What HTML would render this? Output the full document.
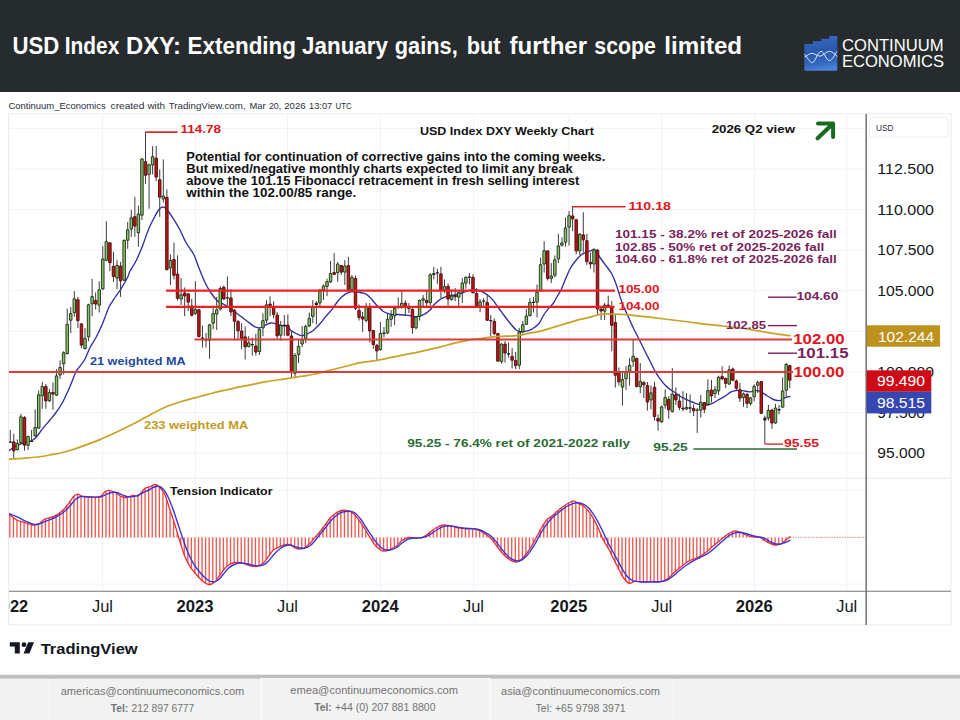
<!DOCTYPE html>
<html><head><meta charset="utf-8"><title>USD Index DXY</title>
<style>html,body{margin:0;padding:0;background:#fff;}body{width:960px;height:720px;overflow:hidden;font-family:"Liberation Sans",sans-serif;}svg{display:block;}text{font-family:"Liberation Sans",sans-serif;}</style></head><body>
<svg width="960" height="720" viewBox="0 0 960 720">
<defs><linearGradient id="lg" x1="0.2" y1="0" x2="0.35" y2="1"><stop offset="0" stop-color="#3a6cc2"/><stop offset="0.45" stop-color="#2a58ab"/><stop offset="0.8" stop-color="#3466bc"/><stop offset="1" stop-color="#4a82d6"/></linearGradient>
<clipPath id="cp"><rect x="9" y="114" width="857" height="477"/></clipPath></defs>
<rect x="0" y="0" width="960" height="720" fill="#ffffff"/>
<rect x="0" y="0" width="960" height="92" fill="#262b2d"/>
<text x="12.4" y="53.7" font-size="23" font-weight="bold" fill="#ffffff" textLength="46.8" lengthAdjust="spacingAndGlyphs">USD</text>
<text x="64.8" y="53.7" font-size="23" font-weight="bold" fill="#ffffff" textLength="54.5" lengthAdjust="spacingAndGlyphs">Index</text>
<text x="126.0" y="53.7" font-size="23" font-weight="bold" fill="#ffffff" textLength="55.0" lengthAdjust="spacingAndGlyphs">DXY:</text>
<text x="187.5" y="53.7" font-size="23" font-weight="bold" fill="#ffffff" textLength="108.5" lengthAdjust="spacingAndGlyphs">Extending</text>
<text x="302.0" y="53.7" font-size="23" font-weight="bold" fill="#ffffff" textLength="86.0" lengthAdjust="spacingAndGlyphs">January</text>
<text x="394.8" y="53.7" font-size="23" font-weight="bold" fill="#ffffff" textLength="63.0" lengthAdjust="spacingAndGlyphs">gains,</text>
<text x="466.8" y="53.7" font-size="23" font-weight="bold" fill="#ffffff" textLength="33.8" lengthAdjust="spacingAndGlyphs">but</text>
<text x="509.6" y="53.7" font-size="23" font-weight="bold" fill="#ffffff" textLength="77.5" lengthAdjust="spacingAndGlyphs">further</text>
<text x="594.3" y="53.7" font-size="23" font-weight="bold" fill="#ffffff" textLength="61.5" lengthAdjust="spacingAndGlyphs">scope</text>
<text x="664.3" y="53.7" font-size="23" font-weight="bold" fill="#ffffff" textLength="77.8" lengthAdjust="spacingAndGlyphs">limited</text>
<g id="logo">
<path d="M804.3 45 Q804.3 44 805.3 44 L812.7 44 L812.7 41.3 L821.3 41.3 L821.3 38.7 L829.3 38.7 L829.3 36 L836.5 36 Q837.3 36 837.3 36.8 L837.3 69.2 Q837.3 70.7 835.8 70.7 L805.8 70.7 Q804.3 70.7 804.3 69.2 Z" fill="url(#lg)"/>
<path d="M804.3 54 C807.3 57 809.5 62.7 812.3 62.7 S817.8 51.3 821 51.3 S826.3 60.7 829.3 60.7 S834.5 54.5 837.3 51.3" fill="none" stroke="#d6e4ff" stroke-width="1"/>
<path d="M804.3 57.3 C807 55.5 809.5 53.3 812 53.3 S817.5 56.2 820 56.2 S826.5 51.3 829.3 51.3 S834.5 54 837.3 56.5" fill="none" stroke="#d6e4ff" stroke-width="1"/>
<text x="842" y="50.9" font-size="16.8" fill="#ffffff" textLength="101.5" lengthAdjust="spacingAndGlyphs">CONTINUUM</text>
<text x="842" y="66.9" font-size="16.8" fill="#ffffff" textLength="102" lengthAdjust="spacingAndGlyphs">ECONOMICS</text>
</g>
<text x="8.4" y="108.6" font-size="9.8" fill="#2a2e39" textLength="97.3" lengthAdjust="spacingAndGlyphs">Continuum_Economics</text>
<text x="110.6" y="108.6" font-size="9.8" fill="#2a2e39" textLength="33.8" lengthAdjust="spacingAndGlyphs">created</text>
<text x="147.4" y="108.6" font-size="9.8" fill="#2a2e39" textLength="17.6" lengthAdjust="spacingAndGlyphs">with</text>
<text x="168.7" y="108.6" font-size="9.8" fill="#2a2e39" textLength="76.9" lengthAdjust="spacingAndGlyphs">TradingView.com,</text>
<text x="249.4" y="108.6" font-size="9.8" fill="#2a2e39" textLength="16.1" lengthAdjust="spacingAndGlyphs">Mar</text>
<text x="268.9" y="108.6" font-size="9.8" fill="#2a2e39" textLength="12.3" lengthAdjust="spacingAndGlyphs">20,</text>
<text x="284.2" y="108.6" font-size="9.8" fill="#2a2e39" textLength="21.4" lengthAdjust="spacingAndGlyphs">2026</text>
<text x="309.0" y="108.6" font-size="9.8" fill="#2a2e39" textLength="23.2" lengthAdjust="spacingAndGlyphs">13:07</text>
<text x="335.6" y="108.6" font-size="9.8" fill="#2a2e39" textLength="16.1" lengthAdjust="spacingAndGlyphs">UTC</text>
<rect x="8.5" y="113.8" width="942.5" height="511" fill="#ffffff" stroke="#e8ebf0" stroke-width="1"/>
<line x1="9" y1="128.4" x2="866" y2="128.4" stroke="#eff2f7" stroke-width="1"/>
<line x1="9" y1="169.0" x2="866" y2="169.0" stroke="#eff2f7" stroke-width="1"/>
<line x1="9" y1="209.6" x2="866" y2="209.6" stroke="#eff2f7" stroke-width="1"/>
<line x1="9" y1="250.2" x2="866" y2="250.2" stroke="#eff2f7" stroke-width="1"/>
<line x1="9" y1="290.7" x2="866" y2="290.7" stroke="#eff2f7" stroke-width="1"/>
<line x1="9" y1="331.3" x2="866" y2="331.3" stroke="#eff2f7" stroke-width="1"/>
<line x1="9" y1="371.9" x2="866" y2="371.9" stroke="#eff2f7" stroke-width="1"/>
<line x1="9" y1="412.5" x2="866" y2="412.5" stroke="#eff2f7" stroke-width="1"/>
<line x1="9" y1="453.0" x2="866" y2="453.0" stroke="#eff2f7" stroke-width="1"/>
<line x1="9" y1="490.3" x2="866" y2="490.3" stroke="#eff2f7" stroke-width="1"/>
<line x1="9" y1="537.3" x2="866" y2="537.3" stroke="#eff2f7" stroke-width="1"/>
<line x1="9" y1="584.2" x2="866" y2="584.2" stroke="#eff2f7" stroke-width="1"/>
<line x1="9" y1="478.3" x2="951" y2="478.3" stroke="#e8ebf0" stroke-width="1"/>
<line x1="102.5" y1="114" x2="102.5" y2="591" stroke="#eff2f7" stroke-width="1"/>
<line x1="195.5" y1="114" x2="195.5" y2="591" stroke="#eff2f7" stroke-width="1"/>
<line x1="287.5" y1="114" x2="287.5" y2="591" stroke="#eff2f7" stroke-width="1"/>
<line x1="380.5" y1="114" x2="380.5" y2="591" stroke="#eff2f7" stroke-width="1"/>
<line x1="473.7" y1="114" x2="473.7" y2="591" stroke="#eff2f7" stroke-width="1"/>
<line x1="568.8" y1="114" x2="568.8" y2="591" stroke="#eff2f7" stroke-width="1"/>
<line x1="661.7" y1="114" x2="661.7" y2="591" stroke="#eff2f7" stroke-width="1"/>
<line x1="754.5" y1="114" x2="754.5" y2="591" stroke="#eff2f7" stroke-width="1"/>
<line x1="846.7" y1="114" x2="846.7" y2="591" stroke="#eff2f7" stroke-width="1"/>
<g clip-path="url(#cp)">
<path d="M9.85 537.4V515.1M13.41 537.4V517.8M16.97 537.4V520.2M20.53 537.4V521.3M24.09 537.4V522.3M27.65 537.4V523.4M31.21 537.4V524.5M34.77 537.4V524.7M38.32 537.4V523.9M41.88 537.4V521.2M45.44 537.4V518.9M49.00 537.4V517.7M52.56 537.4V516.5M56.12 537.4V514.7M59.68 537.4V512.2M63.24 537.4V509.6M66.80 537.4V505.2M70.36 537.4V500.5M73.92 537.4V496.1M77.48 537.4V494.4M81.04 537.4V495.9M84.60 537.4V496.8M88.16 537.4V496.9M91.72 537.4V497.0M95.27 537.4V496.9M98.83 537.4V496.7M102.39 537.4V493.9M105.95 537.4V491.2M109.51 537.4V490.6M113.07 537.4V491.9M116.63 537.4V493.8M120.19 537.4V496.0M123.75 537.4V497.1M127.31 537.4V497.2M130.87 537.4V496.0M134.43 537.4V495.5M137.99 537.4V495.7M141.55 537.4V491.7M145.11 537.4V488.1M148.67 537.4V487.0M152.22 537.4V485.5M155.78 537.4V485.2M159.34 537.4V487.3M162.90 537.4V492.5M166.46 537.4V500.6M170.02 537.4V511.3M173.58 537.4V521.9M177.14 537.4V533.5M180.70 537.4V545.0M184.26 537.4V555.7M187.82 537.4V563.1M191.38 537.4V568.9M194.94 537.4V573.3M198.50 537.4V577.2M202.06 537.4V580.8M205.61 537.4V583.1M209.17 537.4V584.5M212.73 537.4V582.7M216.29 537.4V579.4M219.85 537.4V574.7M223.41 537.4V569.9M226.97 537.4V566.4M230.53 537.4V564.0M234.09 537.4V563.1M237.65 537.4V562.7M241.21 537.4V563.1M244.77 537.4V564.0M248.33 537.4V565.3M251.89 537.4V566.0M255.45 537.4V566.2M259.01 537.4V565.1M262.56 537.4V563.5M266.12 537.4V559.0M269.68 537.4V554.3M273.24 537.4V549.8M276.80 537.4V548.1M280.36 537.4V546.4M283.92 537.4V545.1M287.48 537.4V544.6M291.04 537.4V545.7M294.60 537.4V548.0M298.16 537.4V548.9M301.72 537.4V548.5M305.28 537.4V546.9M308.84 537.4V543.9M312.40 537.4V540.1M315.96 537.4V535.9M319.51 537.4V531.8M323.07 537.4V527.0M326.63 537.4V522.3M330.19 537.4V517.8M333.75 537.4V514.5M337.31 537.4V512.1M340.87 537.4V510.7M344.43 537.4V510.3M347.99 537.4V511.0M351.55 537.4V512.7M355.11 537.4V515.7M358.67 537.4V520.5M362.23 537.4V525.6M365.79 537.4V531.2M369.35 537.4V537.1M372.90 537.4V542.5M376.46 537.4V546.8M380.02 537.4V549.9M383.58 537.4V551.1M387.14 537.4V550.3M390.70 537.4V549.1M394.26 537.4V547.0M397.82 537.4V544.3M401.38 537.4V540.8M404.94 537.4V539.0M408.50 537.4V537.5M412.06 537.4V537.8M415.62 537.4V538.0M419.18 537.4V537.8M422.74 537.4V536.9M426.30 537.4V535.0M429.85 537.4V532.0M433.41 537.4V529.4M436.97 537.4V527.2M440.53 537.4V525.9M444.09 537.4V525.1M447.65 537.4V525.6M451.21 537.4V526.2M454.77 537.4V527.1M458.33 537.4V527.8M461.89 537.4V528.3M465.45 537.4V528.7M469.01 537.4V528.7M472.57 537.4V528.7M476.13 537.4V529.7M479.69 537.4V530.9M483.24 537.4V533.1M486.80 537.4V535.4M490.36 537.4V538.4M493.92 537.4V542.7M497.48 537.4V547.4M501.04 537.4V552.2M504.60 537.4V555.8M508.16 537.4V558.7M511.72 537.4V560.9M515.28 537.4V561.8M518.84 537.4V560.6M522.40 537.4V557.9M525.96 537.4V553.7M529.52 537.4V548.5M533.08 537.4V542.6M536.64 537.4V536.1M540.19 537.4V529.5M543.75 537.4V523.8M547.31 537.4V519.3M550.87 537.4V516.6M554.43 537.4V513.4M557.99 537.4V510.3M561.55 537.4V507.3M565.11 537.4V505.0M568.67 537.4V503.0M572.23 537.4V501.1M575.79 537.4V502.2M579.35 537.4V504.0M582.91 537.4V505.8M586.47 537.4V509.4M590.03 537.4V514.0M593.59 537.4V519.7M597.14 537.4V526.8M600.70 537.4V534.9M604.26 537.4V542.3M607.82 537.4V548.2M611.38 537.4V555.3M614.94 537.4V562.4M618.50 537.4V569.4M622.06 537.4V576.0M625.62 537.4V580.2M629.18 537.4V583.2M632.74 537.4V581.9M636.30 537.4V581.4M639.86 537.4V581.7M643.42 537.4V582.0M646.98 537.4V581.7M650.53 537.4V581.4M654.09 537.4V581.4M657.65 537.4V581.6M661.21 537.4V581.1M664.77 537.4V579.8M668.33 537.4V577.4M671.89 537.4V574.2M675.45 537.4V571.1M679.01 537.4V568.0M682.57 537.4V565.3M686.13 537.4V562.6M689.69 537.4V560.8M693.25 537.4V559.0M696.81 537.4V557.5M700.37 537.4V555.7M703.93 537.4V553.3M707.48 537.4V550.6M711.04 537.4V547.5M714.60 537.4V544.4M718.16 537.4V541.6M721.72 537.4V538.7M725.28 537.4V535.8M728.84 537.4V533.5M732.40 537.4V531.7M735.96 537.4V531.0M739.52 537.4V532.3M743.08 537.4V533.8M746.64 537.4V535.3M750.20 537.4V536.2M753.76 537.4V536.8M757.32 537.4V537.3M760.88 537.4V538.3M764.43 537.4V540.7M767.99 537.4V542.5M771.55 537.4V544.0M775.11 537.4V544.9M778.67 537.4V544.3M782.23 537.4V542.4M785.79 537.4V539.8M789.35 537.4V536.9" stroke="#ea5a52" stroke-width="1.35" fill="none"/>
<line x1="790" y1="537.4" x2="866" y2="537.4" stroke="#f08a86" stroke-width="1" stroke-dasharray="1.3,1.3"/>
<path d="M9.0 514.2C10.3 515.2 14.0 518.6 16.7 520.0C19.4 521.4 22.2 521.7 25.0 522.5C27.8 523.3 31.1 524.7 33.3 525.0C35.5 525.3 36.3 525.2 38.3 524.2C40.2 523.2 42.2 520.6 45.0 519.2C47.8 517.8 52.0 517.3 55.0 515.8C58.0 514.3 60.8 512.4 63.3 510.0C65.8 507.6 68.3 503.9 70.0 501.7C71.7 499.5 72.0 497.9 73.3 496.7C74.5 495.4 75.8 494.2 77.5 494.2C79.2 494.2 80.9 496.2 83.3 496.7C85.7 497.2 88.9 497.0 91.7 497.0C94.5 497.0 97.8 497.6 100.0 496.7C102.2 495.8 103.5 492.8 105.0 491.7C106.5 490.6 107.5 490.2 109.2 490.3C110.9 490.4 112.9 491.4 115.0 492.5C117.1 493.6 119.8 495.9 121.7 496.7C123.7 497.5 124.8 497.7 126.7 497.5C128.6 497.3 131.4 495.6 133.3 495.3C135.2 495.0 136.4 497.0 138.3 495.8C140.2 494.6 143.1 489.8 145.0 488.3C146.9 486.8 148.3 487.3 150.0 486.7C151.7 486.1 153.3 484.4 155.0 484.5C156.7 484.6 158.3 485.8 160.0 487.5C161.7 489.2 163.3 491.2 165.0 495.0C166.7 498.8 168.3 505.0 170.0 510.0C171.7 515.0 173.3 519.7 175.0 525.0C176.7 530.3 178.3 536.4 180.0 541.7C181.7 547.0 183.3 552.5 185.0 556.7C186.7 560.9 188.1 563.7 190.0 566.7C191.9 569.8 194.5 572.5 196.7 575.0C198.9 577.5 201.2 580.1 203.3 581.7C205.4 583.3 207.2 584.7 209.2 584.7C211.1 584.7 213.2 583.3 215.0 581.7C216.8 580.1 218.3 577.2 220.0 575.0C221.7 572.8 223.3 570.1 225.0 568.3C226.7 566.5 228.1 565.2 230.0 564.2C231.9 563.2 234.5 562.6 236.7 562.5C238.9 562.4 241.1 562.8 243.3 563.3C245.5 563.8 247.8 565.3 250.0 565.8C252.2 566.3 254.5 566.7 256.7 566.3C258.9 565.9 261.4 564.9 263.3 563.3C265.2 561.7 266.6 558.9 268.3 556.7C270.0 554.5 271.4 551.7 273.3 550.0C275.2 548.3 277.9 547.6 280.0 546.7C282.1 545.8 284.3 544.8 286.0 544.5C287.7 544.2 288.5 544.1 290.0 544.7C291.5 545.3 293.3 547.2 295.0 548.0C296.7 548.8 298.3 549.3 300.0 549.2C301.7 549.1 303.3 548.5 305.0 547.5C306.7 546.5 308.3 545.0 310.0 543.3C311.7 541.6 313.3 539.4 315.0 537.5C316.7 535.6 318.3 533.8 320.0 531.7C321.7 529.6 323.3 527.2 325.0 525.0C326.7 522.8 328.3 520.2 330.0 518.3C331.7 516.4 333.3 515.0 335.0 513.7C336.7 512.5 338.3 511.4 340.0 510.8C341.7 510.2 343.3 510.2 345.0 510.3C346.7 510.4 348.3 510.5 350.0 511.3C351.7 512.1 353.3 513.3 355.0 515.0C356.7 516.7 358.3 519.3 360.0 521.7C361.7 524.1 363.3 526.6 365.0 529.2C366.7 531.8 368.3 534.9 370.0 537.5C371.7 540.1 373.3 543.0 375.0 545.0C376.7 547.0 378.5 548.7 380.0 549.7C381.5 550.7 382.5 551.2 384.2 551.2C385.9 551.2 387.9 550.6 390.0 549.7C392.1 548.8 394.8 547.3 396.7 545.8C398.6 544.3 399.8 542.2 401.7 540.8C403.6 539.4 406.1 538.0 408.3 537.5C410.5 537.0 412.8 538.0 415.0 538.0C417.2 538.0 419.8 538.2 421.7 537.7C423.6 537.2 425.0 536.1 426.7 535.0C428.4 533.9 430.0 532.0 431.7 530.8C433.4 529.5 434.8 528.5 436.7 527.5C438.6 526.5 441.1 525.3 443.3 525.0C445.5 524.7 447.8 525.4 450.0 525.8C452.2 526.2 454.2 527.0 456.7 527.5C459.2 528.0 462.2 528.5 465.0 528.7C467.8 528.9 470.8 528.4 473.3 528.7C475.8 529.1 477.8 529.8 480.0 530.8C482.2 531.8 484.8 533.6 486.7 535.0C488.6 536.4 490.0 537.4 491.7 539.2C493.4 541.0 495.0 543.6 496.7 545.8C498.4 548.0 500.0 550.5 501.7 552.5C503.4 554.5 505.0 556.1 506.7 557.5C508.4 558.9 510.0 560.0 511.7 560.8C513.4 561.5 515.0 562.3 516.7 562.0C518.4 561.7 520.0 560.7 521.7 559.2C523.4 557.8 525.0 555.5 526.7 553.3C528.4 551.1 530.0 548.6 531.7 545.8C533.4 543.0 535.0 539.8 536.7 536.7C538.4 533.7 540.0 530.3 541.7 527.5C543.4 524.7 545.0 521.9 546.7 520.0C548.4 518.1 550.0 517.7 551.7 516.3C553.4 514.9 555.0 513.2 556.7 511.7C558.4 510.2 560.0 508.8 561.7 507.5C563.4 506.2 564.8 505.3 566.7 504.2C568.6 503.1 571.4 500.9 573.3 500.8C575.2 500.7 576.6 502.5 578.3 503.3C580.0 504.1 581.6 504.6 583.3 505.8C585.0 507.1 586.6 508.7 588.3 510.8C590.0 512.9 591.6 515.4 593.3 518.3C595.0 521.2 596.6 524.7 598.3 528.3C600.0 531.9 601.6 536.7 603.3 540.0C605.0 543.3 606.6 545.2 608.3 548.3C610.0 551.3 611.6 555.0 613.3 558.3C615.0 561.6 616.6 565.1 618.3 568.3C620.0 571.5 621.5 575.0 623.3 577.5C625.1 580.0 627.2 582.7 629.2 583.3C631.2 583.9 632.6 581.5 635.0 581.3C637.4 581.1 640.5 582.0 643.3 582.0C646.1 582.0 648.9 581.3 651.7 581.3C654.5 581.2 657.5 582.1 660.0 581.7C662.5 581.4 664.5 580.6 666.7 579.2C668.9 577.8 671.1 575.2 673.3 573.3C675.5 571.3 677.8 569.3 680.0 567.5C682.2 565.7 684.5 563.9 686.7 562.5C688.9 561.1 691.1 560.2 693.3 559.2C695.5 558.2 697.8 557.5 700.0 556.2C702.2 555.0 704.5 553.4 706.7 551.7C708.9 550.0 711.1 547.7 713.3 545.8C715.5 543.9 717.8 542.2 720.0 540.4C722.2 538.6 724.8 536.4 726.7 535.0C728.7 533.6 730.2 532.7 731.7 532.0C733.2 531.3 734.1 530.6 735.8 530.8C737.5 531.0 739.6 532.2 741.7 533.0C743.8 533.8 746.1 535.1 748.3 535.8C750.5 536.5 753.0 536.7 755.0 537.0C757.0 537.3 758.3 536.9 760.0 537.5C761.7 538.1 763.3 539.8 765.0 540.8C766.7 541.8 768.3 542.6 770.0 543.3C771.7 544.0 773.3 544.9 775.0 545.0C776.7 545.1 778.3 544.9 780.0 544.2C781.7 543.5 783.3 542.0 785.0 540.8C786.7 539.5 789.2 537.4 790.0 536.7" fill="none" stroke="#ee2b2b" stroke-width="1.3" stroke-linejoin="round" stroke-linecap="round" />
<path d="M9.0 513.7C10.3 514.2 14.0 515.5 16.7 516.7C19.4 517.9 22.2 519.5 25.0 520.8C27.8 522.0 30.8 523.7 33.3 524.2C35.8 524.7 37.8 524.3 40.0 523.7C42.2 523.1 44.2 521.8 46.7 520.8C49.2 519.8 52.2 518.9 55.0 517.5C57.8 516.1 60.8 514.5 63.3 512.5C65.8 510.6 68.0 507.9 70.0 505.8C72.0 503.7 73.3 501.5 75.0 500.0C76.7 498.5 78.0 497.2 80.0 496.7C82.0 496.1 83.4 496.6 86.7 496.7C90.0 496.8 96.7 497.4 100.0 497.0C103.3 496.6 104.8 494.9 106.7 494.2C108.7 493.4 110.0 492.8 111.7 492.5C113.4 492.2 114.8 492.0 116.7 492.5C118.6 493.0 121.4 494.6 123.3 495.3C125.2 496.0 126.1 496.6 128.3 496.7C130.5 496.8 134.2 496.5 136.7 495.8C139.2 495.1 141.4 493.4 143.3 492.5C145.2 491.6 146.3 491.3 148.0 490.5C149.7 489.7 151.6 488.2 153.3 487.5C155.0 486.8 156.6 486.0 158.3 486.3C160.0 486.6 161.6 487.3 163.3 489.2C165.0 491.1 166.6 494.0 168.3 497.5C170.0 501.0 171.6 505.4 173.3 510.0C175.0 514.6 176.6 520.0 178.3 525.0C180.0 530.0 181.6 535.3 183.3 540.0C185.0 544.7 186.6 549.4 188.3 553.3C190.0 557.2 191.4 560.1 193.3 563.3C195.2 566.5 197.8 569.9 200.0 572.5C202.2 575.1 204.5 577.6 206.7 579.2C208.9 580.8 211.4 581.9 213.3 582.0C215.2 582.1 216.6 581.3 218.3 580.0C220.0 578.7 221.6 576.2 223.3 574.2C225.0 572.2 226.6 569.8 228.3 568.3C230.0 566.8 231.4 565.9 233.3 565.0C235.2 564.1 237.8 563.2 240.0 563.0C242.2 562.8 244.5 563.3 246.7 563.7C248.9 564.1 251.1 564.9 253.3 565.3C255.5 565.6 258.1 566.0 260.0 565.8C261.9 565.6 263.3 565.3 265.0 564.2C266.7 563.1 268.3 561.0 270.0 559.2C271.7 557.4 273.1 555.2 275.0 553.3C276.9 551.3 279.9 548.8 281.7 547.5C283.5 546.2 284.4 545.9 286.0 545.5C287.6 545.1 289.5 545.0 291.0 545.2C292.5 545.4 293.5 546.2 295.0 546.7C296.5 547.2 298.3 547.8 300.0 548.0C301.7 548.2 303.3 548.4 305.0 548.0C306.7 547.6 308.3 547.0 310.0 545.8C311.7 544.6 313.3 542.7 315.0 540.8C316.7 538.9 318.3 536.3 320.0 534.2C321.7 532.1 323.3 530.4 325.0 528.3C326.7 526.2 328.3 523.6 330.0 521.7C331.7 519.8 333.3 518.2 335.0 516.7C336.7 515.2 338.3 513.8 340.0 513.0C341.7 512.2 343.3 512.0 345.0 511.7C346.7 511.4 348.3 511.1 350.0 511.3C351.7 511.5 353.3 511.8 355.0 513.0C356.7 514.2 358.3 516.2 360.0 518.3C361.7 520.4 363.3 523.3 365.0 525.8C366.7 528.3 368.3 530.8 370.0 533.3C371.7 535.8 373.3 538.6 375.0 540.8C376.7 543.0 378.3 545.2 380.0 546.7C381.7 548.2 383.3 549.2 385.0 549.7C386.7 550.2 388.1 550.4 390.0 550.0C391.9 549.6 394.8 548.6 396.7 547.5C398.6 546.4 399.8 544.7 401.7 543.3C403.6 541.9 406.1 540.1 408.3 539.2C410.5 538.3 412.8 538.2 415.0 538.0C417.2 537.8 419.8 538.0 421.7 537.7C423.6 537.4 425.0 537.0 426.7 536.3C428.4 535.6 430.0 534.3 431.7 533.3C433.4 532.2 434.8 531.1 436.7 530.0C438.6 528.9 441.1 527.4 443.3 526.7C445.5 526.0 447.8 525.8 450.0 525.8C452.2 525.8 454.2 526.6 456.7 527.0C459.2 527.4 462.2 528.0 465.0 528.3C467.8 528.6 470.8 528.4 473.3 528.7C475.8 529.0 477.8 529.2 480.0 530.0C482.2 530.8 484.8 532.2 486.7 533.3C488.6 534.4 490.0 535.2 491.7 536.7C493.4 538.2 495.0 540.4 496.7 542.5C498.4 544.6 500.0 547.1 501.7 549.2C503.4 551.3 505.0 553.3 506.7 555.0C508.4 556.7 510.0 558.2 511.7 559.2C513.4 560.2 515.0 560.7 516.7 560.8C518.4 560.9 520.0 560.8 521.7 560.0C523.4 559.2 525.0 557.6 526.7 555.8C528.4 554.0 530.0 551.7 531.7 549.2C533.4 546.7 535.0 543.7 536.7 540.8C538.4 537.9 540.0 534.5 541.7 531.7C543.4 528.9 545.0 526.4 546.7 524.2C548.4 522.0 550.0 520.0 551.7 518.3C553.4 516.6 555.0 515.6 556.7 514.2C558.4 512.8 560.0 511.3 561.7 510.0C563.4 508.7 564.8 507.6 566.7 506.5C568.6 505.4 571.4 503.9 573.3 503.3C575.2 502.7 576.6 502.7 578.3 502.8C580.0 502.9 581.6 503.4 583.3 504.2C585.0 505.0 586.6 505.8 588.3 507.5C590.0 509.2 591.6 511.7 593.3 514.2C595.0 516.7 596.6 519.5 598.3 522.5C600.0 525.5 601.6 529.0 603.3 532.5C605.0 536.0 606.6 540.0 608.3 543.3C610.0 546.6 611.6 549.4 613.3 552.5C615.0 555.6 616.6 558.7 618.3 561.7C620.0 564.8 621.6 568.2 623.3 570.8C625.0 573.4 626.6 575.8 628.3 577.5C630.0 579.2 631.3 580.1 633.3 580.8C635.2 581.5 636.9 581.5 640.0 581.7C643.1 581.9 648.4 582.0 651.7 582.0C655.0 582.0 657.5 582.0 660.0 581.7C662.5 581.4 664.5 581.3 666.7 580.3C668.9 579.3 671.1 577.5 673.3 575.8C675.5 574.1 677.8 571.8 680.0 570.0C682.2 568.2 684.5 566.5 686.7 565.0C688.9 563.5 691.1 562.0 693.3 560.8C695.5 559.5 697.8 558.6 700.0 557.5C702.2 556.4 704.5 555.6 706.7 554.2C708.9 552.8 711.1 551.0 713.3 549.2C715.5 547.4 717.8 545.2 720.0 543.3C722.2 541.3 724.8 539.0 726.7 537.5C728.7 536.0 730.0 535.0 731.7 534.2C733.4 533.4 735.0 532.8 736.7 532.5C738.4 532.2 739.8 532.2 741.7 532.5C743.6 532.8 746.1 533.6 748.3 534.2C750.5 534.8 753.0 535.8 755.0 536.3C757.0 536.8 758.3 536.6 760.0 537.0C761.7 537.4 763.3 537.9 765.0 538.7C766.7 539.5 768.3 540.9 770.0 541.7C771.7 542.6 773.3 543.4 775.0 543.8C776.7 544.2 778.3 544.4 780.0 544.2C781.7 544.0 783.3 543.1 785.0 542.5C786.7 541.9 789.2 540.7 790.0 540.3" fill="none" stroke="#3a35d8" stroke-width="1.4" stroke-linejoin="round" stroke-linecap="round" />
<path d="M9.0 450.6C10.2 449.8 13.5 447.3 16.0 446.0C18.5 444.7 21.5 443.8 24.0 443.0C26.5 442.2 29.0 441.9 31.0 441.0C33.0 440.1 34.1 439.5 36.0 437.5C37.9 435.5 40.2 431.7 42.5 428.8C44.8 425.8 47.8 422.7 50.0 420.0C52.2 417.3 53.9 415.4 56.0 412.5C58.1 409.6 60.3 406.5 62.5 402.5C64.7 398.5 66.9 393.5 69.0 388.8C71.1 384.0 73.7 376.9 75.0 373.8C76.3 370.6 75.4 372.3 77.0 370.0C78.6 367.7 82.2 363.8 84.4 360.0C86.6 356.2 88.1 351.2 90.0 347.5C91.9 343.8 93.9 341.5 96.0 337.5C98.1 333.5 100.4 328.8 102.5 323.8C104.6 318.8 106.7 311.9 108.8 307.5C110.8 303.1 113.0 300.6 115.0 297.5C117.0 294.4 118.9 292.1 121.0 288.8C123.1 285.4 126.0 280.5 127.5 277.5C129.0 274.5 128.6 273.8 130.0 271.0C131.4 268.2 133.9 265.2 136.0 261.0C138.1 256.8 140.4 251.4 142.5 246.0C144.6 240.6 146.7 233.8 148.8 228.8C150.8 223.8 153.3 219.2 155.0 216.0C156.7 212.8 157.8 211.0 159.0 209.5C160.2 208.0 161.1 207.5 162.0 207.2C162.9 206.8 163.5 206.8 164.5 207.4C165.5 208.0 166.5 209.0 168.0 211.0C169.5 213.0 171.8 216.2 173.8 219.4C175.8 222.6 178.0 226.2 180.0 230.0C182.0 233.8 183.7 238.4 186.0 242.5C188.3 246.6 191.6 250.3 193.8 254.5C195.9 258.7 196.9 262.8 198.8 267.5C200.6 272.2 203.0 278.2 205.0 282.5C207.0 286.8 208.9 289.9 211.0 293.0C213.1 296.1 215.4 299.1 217.5 301.0C219.6 302.9 221.7 303.3 223.8 304.4C225.8 305.5 228.0 306.4 230.0 307.8C232.0 309.2 233.8 311.1 236.0 312.8C238.2 314.5 240.7 316.2 243.0 318.0C245.3 319.8 248.0 321.9 250.0 323.4C252.0 324.9 253.3 326.2 255.0 326.9C256.7 327.6 258.3 328.1 260.0 327.8C261.7 327.5 263.2 326.1 265.0 325.3C266.8 324.5 269.2 323.3 271.0 323.0C272.8 322.7 274.3 323.3 276.0 323.8C277.7 324.2 279.1 325.2 281.0 325.6C282.9 326.0 285.8 325.4 287.5 326.2C289.2 327.1 289.6 329.4 291.0 330.6C292.4 331.8 294.3 332.7 296.0 333.5C297.7 334.3 299.3 335.4 301.0 335.6C302.7 335.8 304.5 335.0 306.0 334.5C307.5 334.0 308.7 333.2 310.0 332.5C311.3 331.8 312.1 331.5 313.8 330.0C315.4 328.5 318.0 326.0 320.0 323.8C322.0 321.5 323.9 318.8 326.0 316.2C328.1 313.8 330.4 311.5 332.5 308.8C334.6 306.0 336.7 302.4 338.8 300.0C340.8 297.6 343.0 295.8 345.0 294.4C347.0 293.0 349.3 292.3 351.0 291.9C352.7 291.5 353.5 291.8 355.0 291.9C356.5 292.0 358.2 292.1 360.0 292.5C361.8 292.9 364.2 293.1 366.0 294.1C367.8 295.1 369.2 296.6 371.0 298.5C372.8 300.4 374.9 303.3 377.0 305.5C379.1 307.7 381.3 310.1 383.5 311.5C385.7 312.9 387.7 313.7 390.0 314.2C392.3 314.7 395.2 314.4 397.5 314.5C399.8 314.6 401.9 314.8 404.0 315.0C406.1 315.2 408.4 315.3 410.0 315.6C411.6 315.9 412.3 316.6 413.8 316.7C415.2 316.8 416.9 316.7 418.8 316.2C420.6 315.8 423.1 314.8 425.0 313.8C426.9 312.7 428.3 311.7 430.0 310.0C431.7 308.3 433.2 305.6 435.0 303.8C436.8 301.9 438.9 300.0 441.0 298.8C443.1 297.5 445.2 296.9 447.5 296.2C449.8 295.6 452.5 295.5 455.0 295.0C457.5 294.5 460.2 293.8 462.5 293.0C464.8 292.2 466.8 290.8 469.0 290.3C471.2 289.8 473.8 289.7 476.0 290.0C478.2 290.3 480.6 291.1 482.5 291.9C484.4 292.7 485.8 293.7 487.5 295.0C489.2 296.3 490.8 297.6 492.5 299.6C494.2 301.6 496.0 304.3 498.0 307.0C500.0 309.7 502.4 313.2 504.5 316.0C506.6 318.8 508.6 321.4 510.5 323.7C512.4 326.0 514.4 328.4 516.0 329.7C517.6 331.0 518.3 331.3 520.0 331.6C521.7 331.9 523.9 331.7 526.0 331.2C528.1 330.8 530.4 330.0 532.5 328.8C534.6 327.5 536.8 326.1 538.8 323.8C540.7 321.4 542.3 317.1 544.0 314.5C545.7 311.9 547.4 309.9 549.0 308.0C550.6 306.1 552.2 304.9 553.5 303.0C554.8 301.1 555.8 298.9 557.0 296.7C558.2 294.5 559.6 292.9 561.0 290.0C562.4 287.1 564.0 282.5 565.5 279.0C567.0 275.5 568.4 271.9 570.0 269.0C571.6 266.1 573.2 263.8 575.0 261.5C576.8 259.2 579.2 256.5 581.0 255.0C582.8 253.5 584.3 253.2 586.0 252.5C587.7 251.8 589.5 251.0 591.0 250.6C592.5 250.2 593.5 248.8 595.0 250.0C596.5 251.2 598.3 255.1 600.0 257.5C601.7 259.9 603.2 261.9 605.0 264.4C606.8 266.9 609.3 269.7 611.0 272.5C612.7 275.3 613.8 278.3 615.0 281.2C616.2 284.2 616.8 286.2 618.0 290.0C619.2 293.8 620.9 299.6 622.5 303.8C624.1 307.9 625.8 311.2 627.5 315.0C629.2 318.8 630.6 322.3 632.5 326.2C634.4 330.2 636.7 334.6 638.8 338.8C640.8 342.9 643.1 347.5 645.0 351.2C646.9 355.0 648.3 357.7 650.0 361.0C651.7 364.3 653.3 368.3 655.0 371.2C656.7 374.2 658.3 376.5 660.0 378.8C661.7 381.0 663.3 383.2 665.0 385.0C666.7 386.8 668.3 388.1 670.0 389.4C671.7 390.6 673.3 391.4 675.0 392.5C676.7 393.6 678.3 395.2 680.0 396.2C681.7 397.3 683.3 397.9 685.0 398.8C686.7 399.6 688.3 400.5 690.0 401.2C691.7 402.0 693.5 402.6 695.0 403.1C696.5 403.6 697.8 404.1 699.0 404.4C700.2 404.7 701.1 404.9 702.5 405.0C703.9 405.1 705.8 405.3 707.5 405.0C709.2 404.7 711.2 403.9 713.0 403.1C714.8 402.3 716.0 401.1 718.0 400.0C720.0 398.9 722.8 397.6 725.0 396.2C727.2 394.9 729.2 392.8 731.0 391.9C732.8 391.0 734.1 390.8 736.0 390.6C737.9 390.4 740.2 390.4 742.5 390.6C744.8 390.8 747.8 391.9 750.0 391.9C752.2 391.9 754.3 390.7 756.0 390.6C757.7 390.5 758.5 390.6 760.0 391.2C761.5 391.9 763.3 393.4 765.0 394.4C766.7 395.4 768.3 396.6 770.0 397.5C771.7 398.4 773.3 399.5 775.0 400.0C776.7 400.5 778.5 400.9 780.0 400.6C781.5 400.3 782.8 398.7 784.0 398.1C785.2 397.5 786.5 397.2 787.5 396.9C788.5 396.6 789.6 396.6 790.0 396.5" fill="none" stroke="#2f2fa3" stroke-width="1.35" stroke-linejoin="round" stroke-linecap="round" />
<path d="M10.25 430.0V443.0M13.81 433.8V458.0M17.37 439.4V450.6M20.93 413.8V443.8M24.49 416.2V450.6M28.05 435.6V450.0M31.61 430.0V441.9M35.17 409.4V436.9M38.72 390.6V428.8M42.28 381.9V408.8M45.84 383.8V408.8M49.40 388.8V401.9M52.96 382.5V409.8M56.52 369.2V396.0M60.08 360.4V378.8M63.64 351.2V374.6M67.20 308.8V354.4M70.76 306.9V333.1M74.32 291.2V316.9M77.88 296.9V328.1M81.44 323.1V348.2M85.00 328.1V349.4M88.56 303.8V341.2M92.12 278.8V316.2M95.67 292.5V309.4M99.23 281.2V312.5M102.79 246.2V290.0M106.35 221.2V261.2M109.91 241.9V271.2M113.47 251.9V281.9M117.03 260.0V289.4M120.59 261.9V296.9M124.15 239.4V281.0M127.71 221.9V248.8M131.27 210.0V236.9M134.83 196.9V236.9M138.39 205.6V246.9M141.95 158.0V220.0M145.51 131.9V183.8M149.07 163.8V208.8M152.62 146.2V174.4M156.18 145.9V181.2M159.74 169.4V216.9M163.30 159.4V202.5M166.86 189.4V270.6M170.42 254.4V285.0M173.98 242.5V279.4M177.54 255.3V300.6M181.10 278.1V305.0M184.66 287.5V316.2M188.22 293.1V311.2M191.78 298.8V316.5M195.34 281.2V315.0M198.90 308.8V337.5M202.46 325.6V347.5M206.01 333.0V347.5M209.57 323.8V358.8M213.13 308.1V329.4M216.69 296.9V330.0M220.25 286.2V310.6M223.81 285.6V300.0M227.37 276.5V305.0M230.93 289.4V316.0M234.49 309.0V340.6M238.05 320.0V338.8M241.61 323.1V349.4M245.17 326.5V359.4M248.73 336.2V347.5M252.29 337.5V355.6M255.85 333.8V355.6M259.41 328.1V355.0M262.96 313.4V336.2M266.52 300.3V323.4M270.08 296.2V316.2M273.64 301.2V318.4M277.20 311.9V338.8M280.76 320.9V340.6M284.32 315.0V336.2M287.88 314.4V336.2M291.44 331.2V378.1M295.00 353.1V378.1M298.56 340.0V363.1M302.12 326.0V347.2M305.68 325.0V343.1M309.24 312.5V326.9M312.80 300.0V323.1M316.36 301.2V324.4M319.91 288.8V306.2M323.47 284.4V300.0M327.03 278.8V296.2M330.59 261.0V282.8M334.15 253.1V275.0M337.71 261.9V281.9M341.27 264.8V275.0M344.83 260.2V285.0M348.39 256.9V290.6M351.95 275.0V290.6M355.51 275.6V310.0M359.07 304.4V320.6M362.63 311.9V331.9M366.19 303.1V322.5M369.75 303.1V342.5M373.30 330.0V348.8M376.86 343.8V361.2M380.42 322.0V350.6M383.98 327.0V337.5M387.54 314.0V334.2M391.10 310.0V326.9M394.66 307.4V325.0M398.22 297.5V308.8M401.78 291.2V308.8M405.34 300.3V316.0M408.90 303.1V313.1M412.46 308.3V333.8M416.02 316.2V329.4M419.58 299.4V320.6M423.14 295.0V306.2M426.70 291.0V307.2M430.25 273.1V305.6M433.81 266.9V279.4M437.37 268.8V283.8M440.93 266.9V298.1M444.49 279.4V293.1M448.05 283.5V305.6M451.61 289.4V300.6M455.17 288.1V301.2M458.73 291.9V306.2M462.29 278.1V303.1M465.85 276.2V288.8M469.41 273.1V284.4M472.97 274.4V293.5M476.53 288.1V307.2M480.09 299.0V312.2M483.64 298.1V305.6M487.20 295.0V321.0M490.76 315.0V336.2M494.32 318.5V335.0M497.88 332.8V361.9M501.44 343.1V363.8M505.00 341.2V362.5M508.56 342.5V357.5M512.12 348.1V368.5M515.68 351.9V369.0M519.24 328.1V369.0M522.80 320.9V333.4M526.36 308.9V325.0M529.92 298.0V316.5M533.48 297.1V312.5M537.04 284.5V317.5M540.59 257.5V291.7M544.15 241.2V272.5M547.71 250.0V280.6M551.27 263.1V283.1M554.83 255.6V277.5M558.39 233.8V263.1M561.95 237.5V246.5M565.51 217.5V246.5M569.07 211.0V245.6M572.63 206.9V231.2M576.19 218.8V254.4M579.75 233.1V255.0M583.31 212.2V252.5M586.87 233.8V265.0M590.43 252.5V268.8M593.99 248.1V272.5M597.54 249.0V315.3M601.10 308.0V320.0M604.66 303.1V320.0M608.22 295.6V307.5M611.78 301.0V351.2M615.34 315.0V387.5M618.90 367.5V385.6M622.46 373.1V405.6M626.02 366.2V390.0M629.58 358.1V385.6M633.14 340.0V366.9M636.70 357.5V387.5M640.26 363.1V393.1M643.82 381.2V398.1M647.38 381.9V410.6M650.93 385.6V409.4M654.49 381.9V420.6M658.05 414.4V430.6M661.61 405.6V422.8M665.17 389.4V408.8M668.73 396.2V418.8M672.29 368.1V412.5M675.85 387.5V405.0M679.41 393.8V410.2M682.97 391.2V411.2M686.53 393.1V410.0M690.09 394.4V413.1M693.65 404.4V416.2M697.21 408.1V433.1M700.77 395.0V417.5M704.33 401.9V413.1M707.88 379.4V405.6M711.44 380.0V402.5M715.00 386.2V398.1M718.56 375.6V395.0M722.12 366.2V380.0M725.68 377.5V388.1M729.24 365.6V384.8M732.80 367.5V381.2M736.36 379.4V390.6M739.92 383.1V401.9M743.48 392.5V406.9M747.04 393.1V408.1M750.60 396.9V405.6M754.16 384.4V401.2M757.72 380.6V393.1M761.28 381.0V414.0M764.83 415.6V444.1M768.39 405.0V420.6M771.95 408.8V428.8M775.51 404.0V423.8M779.07 405.0V414.4M782.63 377.5V408.1M786.19 363.1V396.9M789.75 364.8V388.1" stroke="#3c3c3c" stroke-width="1" fill="none"/>
<path d="M16.12 443.4h2.5v6.2h-2.5zM19.68 416.9h2.5v25.7h-2.5zM26.80 436.6h2.5v8.6h-2.5zM33.92 427.6h2.5v8.2h-2.5zM37.47 394.8h2.5v33.3h-2.5zM41.03 386.6h2.5v9.2h-2.5zM48.15 392.6h2.5v8.2h-2.5zM55.27 375.9h2.5v19.3h-2.5zM58.83 367.5h2.5v7.5h-2.5zM62.39 352.8h2.5v11.0h-2.5zM65.95 324.4h2.5v29.2h-2.5zM69.51 313.5h2.5v6.7h-2.5zM73.07 298.9h2.5v13.8h-2.5zM83.75 338.2h2.5v10.4h-2.5zM87.31 304.8h2.5v32.1h-2.5zM90.87 296.6h2.5v7.3h-2.5zM97.98 289.8h2.5v15.4h-2.5zM101.54 259.1h2.5v29.8h-2.5zM105.10 241.7h2.5v18.6h-2.5zM115.78 265.4h2.5v12.7h-2.5zM122.90 240.4h2.5v39.8h-2.5zM126.46 229.8h2.5v10.4h-2.5zM130.02 217.9h2.5v11.1h-2.5zM137.14 214.2h2.5v18.5h-2.5zM140.70 158.9h2.5v56.3h-2.5zM147.82 164.8h2.5v9.5h-2.5zM151.37 156.7h2.5v8.2h-2.5zM162.05 196.0h2.5v3.0h-2.5zM169.17 260.4h2.5v7.5h-2.5zM179.85 294.8h2.5v4.2h-2.5zM194.09 309.5h2.5v3.8h-2.5zM208.32 324.8h2.5v15.4h-2.5zM211.88 313.7h2.5v9.5h-2.5zM215.44 309.8h2.5v4.2h-2.5zM219.00 288.5h2.5v20.5h-2.5zM247.48 342.9h2.5v3.6h-2.5zM258.16 329.4h2.5v22.1h-2.5zM261.71 320.7h2.5v7.2h-2.5zM265.27 304.8h2.5v15.4h-2.5zM279.51 325.4h2.5v9.8h-2.5zM293.75 355.4h2.5v17.9h-2.5zM297.31 346.4h2.5v8.2h-2.5zM300.87 339.8h2.5v4.2h-2.5zM304.43 326.4h2.5v11.9h-2.5zM307.99 318.4h2.5v7.5h-2.5zM311.55 306.6h2.5v9.8h-2.5zM318.66 290.1h2.5v12.9h-2.5zM322.22 286.0h2.5v3.8h-2.5zM325.78 281.6h2.5v4.8h-2.5zM329.34 273.5h2.5v8.3h-2.5zM336.46 264.1h2.5v8.6h-2.5zM343.58 266.0h2.5v6.1h-2.5zM350.70 277.3h2.5v12.3h-2.5zM364.94 307.6h2.5v12.8h-2.5zM379.17 333.5h2.5v16.1h-2.5zM382.73 332.9h2.5v0.6h-2.5zM386.29 319.3h2.5v13.6h-2.5zM389.85 315.7h2.5v3.6h-2.5zM393.41 308.5h2.5v7.3h-2.5zM400.53 303.2h2.5v3.3h-2.5zM414.77 317.3h2.5v10.6h-2.5zM418.33 300.5h2.5v16.0h-2.5zM421.89 298.8h2.5v1.4h-2.5zM429.00 274.8h2.5v27.9h-2.5zM432.56 273.5h2.5v1.1h-2.5zM443.24 286.6h2.5v3.2h-2.5zM450.36 296.0h2.5v3.5h-2.5zM457.48 292.6h2.5v4.5h-2.5zM461.04 283.1h2.5v8.9h-2.5zM464.60 277.3h2.5v5.8h-2.5zM478.84 301.9h2.5v4.2h-2.5zM500.19 344.1h2.5v17.3h-2.5zM517.99 332.0h2.5v33.2h-2.5zM521.55 324.8h2.5v7.0h-2.5zM525.11 316.0h2.5v8.3h-2.5zM528.67 302.3h2.5v13.3h-2.5zM535.79 292.1h2.5v10.0h-2.5zM539.34 264.7h2.5v26.1h-2.5zM542.90 250.7h2.5v13.3h-2.5zM550.02 276.0h2.5v2.3h-2.5zM553.58 259.8h2.5v15.4h-2.5zM557.14 246.0h2.5v13.0h-2.5zM560.70 242.9h2.5v2.3h-2.5zM564.26 227.9h2.5v14.2h-2.5zM567.82 215.7h2.5v11.4h-2.5zM578.50 234.2h2.5v16.7h-2.5zM592.74 249.8h2.5v14.2h-2.5zM603.41 305.1h2.5v6.0h-2.5zM621.21 379.4h2.5v7.7h-2.5zM624.77 372.3h2.5v6.3h-2.5zM628.33 365.4h2.5v5.7h-2.5zM631.89 356.4h2.5v4.9h-2.5zM639.01 381.6h2.5v5.2h-2.5zM649.68 392.9h2.5v7.0h-2.5zM660.36 406.9h2.5v14.9h-2.5zM663.92 397.6h2.5v7.6h-2.5zM671.04 394.1h2.5v17.3h-2.5zM685.28 407.3h2.5v1.7h-2.5zM699.52 402.3h2.5v7.9h-2.5zM706.63 390.6h2.5v13.9h-2.5zM713.75 389.8h2.5v3.8h-2.5zM717.31 377.3h2.5v13.6h-2.5zM727.99 369.8h2.5v14.2h-2.5zM742.23 393.9h2.5v3.8h-2.5zM749.35 397.9h2.5v5.5h-2.5zM752.91 386.4h2.5v10.4h-2.5zM756.47 382.6h2.5v2.6h-2.5zM767.14 410.4h2.5v7.7h-2.5zM774.26 408.1h2.5v14.9h-2.5zM781.38 391.0h2.5v16.1h-2.5zM784.94 364.4h2.5v25.8h-2.5z" fill="#8ac468" stroke="#1a2b13" stroke-width="0.9"/>
<path d="M12.56 441.9h2.5v8.9h-2.5zM23.24 417.6h2.5v27.6h-2.5zM44.59 386.6h2.5v14.2h-2.5zM51.71 392.6h2.5v1.4h-2.5zM76.63 299.8h2.5v20.8h-2.5zM80.19 323.9h2.5v21.2h-2.5zM94.42 300.4h2.5v3.6h-2.5zM108.66 242.9h2.5v19.8h-2.5zM112.22 266.4h2.5v10.1h-2.5zM119.34 266.0h2.5v14.8h-2.5zM133.58 216.7h2.5v9.4h-2.5zM144.26 161.7h2.5v13.5h-2.5zM154.93 158.2h2.5v18.9h-2.5zM158.49 179.8h2.5v17.3h-2.5zM165.61 197.4h2.5v72.2h-2.5zM172.73 259.6h2.5v15.6h-2.5zM176.29 274.1h2.5v24.2h-2.5zM183.41 292.9h2.5v3.0h-2.5zM186.97 293.9h2.5v8.2h-2.5zM190.53 306.0h2.5v9.2h-2.5zM197.65 309.8h2.5v26.7h-2.5zM201.21 337.9h2.5v0.6h-2.5zM222.56 287.3h2.5v11.7h-2.5zM229.68 297.9h2.5v14.1h-2.5zM233.24 310.5h2.5v10.8h-2.5zM236.80 321.6h2.5v9.2h-2.5zM240.36 331.0h2.5v7.3h-2.5zM243.92 336.9h2.5v9.9h-2.5zM254.60 346.0h2.5v6.1h-2.5zM268.83 304.1h2.5v1.4h-2.5zM272.39 307.3h2.5v7.1h-2.5zM275.95 315.1h2.5v20.7h-2.5zM286.63 325.1h2.5v10.1h-2.5zM290.19 336.0h2.5v36.7h-2.5zM332.90 272.6h2.5v1.7h-2.5zM340.02 265.6h2.5v6.5h-2.5zM347.14 265.6h2.5v23.9h-2.5zM354.26 278.5h2.5v29.8h-2.5zM357.82 310.4h2.5v7.0h-2.5zM361.38 316.9h2.5v2.1h-2.5zM368.50 307.6h2.5v23.3h-2.5zM372.05 330.6h2.5v13.9h-2.5zM375.61 345.4h2.5v5.5h-2.5zM396.97 306.6h2.5v1.1h-2.5zM404.09 303.2h2.5v3.9h-2.5zM407.65 307.6h2.5v1.0h-2.5zM411.21 309.4h2.5v18.2h-2.5zM425.45 300.4h2.5v2.3h-2.5zM439.68 273.9h2.5v15.9h-2.5zM446.80 286.4h2.5v12.6h-2.5zM453.92 295.7h2.5v1.1h-2.5zM471.72 277.3h2.5v15.4h-2.5zM475.28 293.5h2.5v12.8h-2.5zM485.95 302.6h2.5v17.6h-2.5zM493.07 321.4h2.5v12.2h-2.5zM496.63 333.5h2.5v27.6h-2.5zM503.75 344.1h2.5v8.9h-2.5zM510.87 356.4h2.5v3.8h-2.5zM514.43 360.6h2.5v5.0h-2.5zM546.46 251.0h2.5v27.4h-2.5zM571.38 216.0h2.5v3.0h-2.5zM574.94 219.8h2.5v31.0h-2.5zM582.06 234.8h2.5v5.0h-2.5zM585.62 240.7h2.5v20.8h-2.5zM589.18 262.3h2.5v1.7h-2.5zM596.29 250.2h2.5v58.8h-2.5zM599.85 309.1h2.5v1.9h-2.5zM606.97 305.1h2.5v1.3h-2.5zM610.53 307.3h2.5v17.9h-2.5zM614.09 322.6h2.5v52.6h-2.5zM617.65 371.6h2.5v10.2h-2.5zM635.45 358.5h2.5v28.0h-2.5zM642.57 382.6h2.5v2.2h-2.5zM646.13 385.6h2.5v16.4h-2.5zM653.24 387.3h2.5v29.2h-2.5zM656.80 418.5h2.5v2.6h-2.5zM667.48 399.4h2.5v10.4h-2.5zM674.60 394.8h2.5v5.1h-2.5zM678.16 401.0h2.5v6.3h-2.5zM681.72 408.1h2.5v0.8h-2.5zM692.40 408.5h2.5v2.3h-2.5zM703.08 402.6h2.5v6.7h-2.5zM710.19 390.1h2.5v5.7h-2.5zM720.87 376.6h2.5v2.3h-2.5zM724.43 378.5h2.5v4.8h-2.5zM731.55 369.1h2.5v11.1h-2.5zM735.11 381.0h2.5v7.3h-2.5zM738.67 389.8h2.5v8.3h-2.5zM745.79 394.4h2.5v8.9h-2.5zM760.03 381.6h2.5v31.7h-2.5zM770.70 410.1h2.5v12.9h-2.5zM788.50 365.6h2.5v14.6h-2.5z" fill="#c41515" stroke="#4a0909" stroke-width="0.9"/>
<path d="M8.75 441.4h3v1.3h-3zM30.11 440.7h3v1.3h-3zM204.51 339.2h3v1.3h-3zM225.87 297.2h3v1.3h-3zM250.79 344.0h3v1.3h-3zM282.82 324.7h3v1.3h-3zM314.86 302.7h3v2.3h-3zM435.87 272.3h3v1.3h-3zM467.91 276.5h3v1.3h-3zM482.14 300.5h3v1.3h-3zM489.26 319.9h3v1.3h-3zM507.06 353.2h3v1.3h-3zM531.98 301.7h3v1.3h-3zM688.59 407.2h3v1.6h-3zM695.71 409.5h3v1.3h-3zM763.33 417.8h3v2.8h-3zM777.57 409.1h3v1.5h-3z" fill="#1a1a1a" stroke="none"/>
<path d="M9.0 459.2C11.7 459.0 20.2 458.6 25.0 458.2C29.8 457.8 33.3 457.5 37.5 457.0C41.7 456.5 45.8 455.8 50.0 455.0C54.2 454.2 58.3 453.5 62.5 452.5C66.7 451.5 70.8 450.1 75.0 448.8C79.2 447.4 83.3 445.9 87.5 444.4C91.7 442.9 95.8 441.3 100.0 439.6C104.2 437.9 109.2 435.5 112.5 434.0C115.8 432.5 116.6 432.2 120.0 430.5C123.4 428.8 128.0 426.6 133.0 424.0C138.0 421.4 144.4 417.9 150.0 415.0C155.6 412.1 161.2 408.8 166.7 406.5C172.2 404.2 177.4 402.7 183.0 401.0C188.6 399.3 195.0 397.8 200.0 396.5C205.0 395.2 208.7 394.1 213.0 393.0C217.3 391.9 221.5 391.0 226.0 390.0C230.5 389.0 235.6 387.8 240.0 386.9C244.4 386.0 248.3 385.2 252.5 384.4C256.7 383.6 260.8 382.6 265.0 381.9C269.2 381.2 273.3 380.6 277.5 380.0C281.7 379.4 285.8 378.7 290.0 378.1C294.2 377.5 299.2 376.8 302.5 376.2C305.8 375.7 307.1 375.6 310.0 375.0C312.9 374.4 315.5 374.0 320.0 372.9C324.5 371.8 331.5 369.9 337.0 368.5C342.5 367.1 349.2 365.5 353.0 364.5C356.8 363.5 356.2 363.3 360.0 362.6C363.8 361.9 369.8 361.6 376.0 360.5C382.2 359.4 389.8 357.8 397.5 356.2C405.2 354.7 416.2 352.6 422.5 351.2C428.8 349.9 430.8 349.1 435.0 348.1C439.2 347.1 443.3 346.0 447.5 345.0C451.7 344.0 455.8 342.8 460.0 341.9C464.2 341.0 469.2 339.9 472.5 339.4C475.8 338.8 476.7 339.0 480.0 338.6C483.3 338.2 488.3 337.3 492.5 336.9C496.7 336.5 500.8 336.5 505.0 336.2C509.2 336.0 514.3 335.9 517.5 335.6C520.7 335.3 521.9 334.8 524.0 334.4C526.1 334.0 526.9 333.7 530.0 333.1C533.1 332.5 538.3 331.6 542.5 330.6C546.7 329.6 550.8 328.1 555.0 326.9C559.2 325.6 563.3 324.4 567.5 323.1C571.7 321.9 576.9 320.2 580.0 319.4C583.1 318.6 584.2 318.6 586.0 318.2C587.8 317.8 589.1 317.4 591.0 316.9C592.9 316.4 595.3 315.5 597.5 315.0C599.7 314.5 601.9 314.3 604.0 314.1C606.1 313.9 606.9 313.7 610.0 313.8C613.1 313.8 618.3 314.1 622.5 314.4C626.7 314.7 630.8 315.2 635.0 315.6C639.2 316.0 643.3 316.4 647.5 316.9C651.7 317.4 655.8 318.0 660.0 318.5C664.2 319.0 668.3 319.5 672.5 320.0C676.7 320.5 680.8 321.0 685.0 321.5C689.2 322.0 693.9 322.6 697.5 323.1C701.1 323.6 702.5 323.9 706.7 324.4C711.0 324.9 717.5 325.4 723.0 326.0C728.5 326.6 734.4 327.2 740.0 328.0C745.6 328.8 751.2 329.8 756.7 330.7C762.2 331.6 768.0 332.5 773.0 333.3C778.0 334.1 783.9 334.9 786.7 335.3C789.5 335.7 789.5 335.6 790.0 335.6" fill="none" stroke="#c9a227" stroke-width="1.75" stroke-linejoin="round" stroke-linecap="round" />
<line x1="9" y1="372.0" x2="793" y2="372.0" stroke="#dc3a3c" stroke-width="2"/>
<line x1="194.5" y1="339.4" x2="792" y2="339.4" stroke="#dc3a3c" stroke-width="2"/>
<line x1="166" y1="306.9" x2="614.5" y2="306.9" stroke="#f01f24" stroke-width="2.2"/>
<line x1="166" y1="290.7" x2="615" y2="290.7" stroke="#f01f24" stroke-width="2.2"/>
<path d="M145.6 132.1H177.5" stroke="#e0282c" stroke-width="1.6" fill="none"/>
<path d="M572 206.8H625.7" stroke="#e0282c" stroke-width="1.6" fill="none"/>
<path d="M764.9 444.1H783" stroke="#e0282c" stroke-width="1.4" fill="none"/>
<line x1="768" y1="297.2" x2="796.5" y2="297.2" stroke="#7a1f5c" stroke-width="1.4"/>
<line x1="768" y1="325.6" x2="797" y2="325.6" stroke="#7a1f5c" stroke-width="1.4"/>
<line x1="768" y1="353.2" x2="797" y2="353.2" stroke="#7a1f5c" stroke-width="1.4"/>
<line x1="693.5" y1="449.0" x2="797" y2="449.0" stroke="#2a6b35" stroke-width="1.4"/>
</g>
<text x="180.5" y="132.6" font-size="11" fill="#e0161b" font-weight="bold" textLength="40.5" lengthAdjust="spacingAndGlyphs">114.78</text>
<text x="628.4" y="210.0" font-size="11" fill="#e0161b" font-weight="bold" textLength="42.5" lengthAdjust="spacingAndGlyphs">110.18</text>
<text x="618.4" y="293.1" font-size="11" fill="#e0161b" font-weight="bold" textLength="41.2" lengthAdjust="spacingAndGlyphs">105.00</text>
<text x="618.4" y="310.2" font-size="11" fill="#e0161b" font-weight="bold" textLength="41.2" lengthAdjust="spacingAndGlyphs">104.00</text>
<text x="793.2" y="343.7" font-size="15.2" fill="#e0161b" font-weight="bold" textLength="51.5" lengthAdjust="spacingAndGlyphs">102.00</text>
<text x="793.4" y="377.0" font-size="15.2" fill="#e0161b" font-weight="bold" textLength="51.0" lengthAdjust="spacingAndGlyphs">100.00</text>
<text x="797.0" y="357.7" font-size="15.2" fill="#7a1f5c" font-weight="bold" textLength="51.5" lengthAdjust="spacingAndGlyphs">101.15</text>
<text x="796.4" y="300.2" font-size="10.8" fill="#7a1f5c" font-weight="bold" textLength="42.0" lengthAdjust="spacingAndGlyphs">104.60</text>
<text x="726.0" y="329.0" font-size="10.8" fill="#7a1f5c" font-weight="bold" textLength="40.0" lengthAdjust="spacingAndGlyphs">102.85</text>
<text x="784.0" y="446.8" font-size="10.8" fill="#e0161b" font-weight="bold" textLength="35.0" lengthAdjust="spacingAndGlyphs">95.55</text>
<text x="653.3" y="450.8" font-size="10.8" fill="#2a6b35" font-weight="bold" textLength="34.5" lengthAdjust="spacingAndGlyphs">95.25</text>
<text x="407.3" y="446.8" font-size="10.8" fill="#2a6b35" font-weight="bold" textLength="222.7" lengthAdjust="spacingAndGlyphs">95.25 - 76.4% ret of 2021-2022 rally</text>
<text x="90.0" y="365.0" font-size="11.5" fill="#1f4a9c" font-weight="bold" textLength="95.7" lengthAdjust="spacingAndGlyphs">21 weighted MA</text>
<text x="144.0" y="429.4" font-size="11.5" fill="#c39a22" font-weight="bold" textLength="104.3" lengthAdjust="spacingAndGlyphs">233 weighted MA</text>
<text x="420.0" y="134.5" font-size="11.8" fill="#111111" font-weight="bold" textLength="173.8" lengthAdjust="spacingAndGlyphs">USD Index DXY Weekly Chart</text>
<text x="711.7" y="133.4" font-size="11.8" fill="#111111" font-weight="bold" textLength="83.3" lengthAdjust="spacingAndGlyphs">2026 Q2 view</text>
<text x="170.0" y="495.0" font-size="11.8" fill="#111111" font-weight="bold" textLength="102.5" lengthAdjust="spacingAndGlyphs">Tension Indicator</text>
<text x="186.3" y="161.0" font-size="12.1" fill="#111111" font-weight="bold" textLength="419.0" lengthAdjust="spacingAndGlyphs">Potential for continuation of corrective gains into the coming weeks.</text>
<text x="186.3" y="173.0" font-size="12.1" fill="#111111" font-weight="bold" textLength="386.5" lengthAdjust="spacingAndGlyphs">But mixed/negative monthly charts expected to limit any break</text>
<text x="186.3" y="185.0" font-size="12.1" fill="#111111" font-weight="bold" textLength="393.0" lengthAdjust="spacingAndGlyphs">above the 101.15 Fibonacci retracement in fresh selling interest</text>
<text x="186.3" y="197.0" font-size="12.1" fill="#111111" font-weight="bold" textLength="170.0" lengthAdjust="spacingAndGlyphs">within the 102.00/85 range.</text>
<text x="614.9" y="238.3" font-size="10.9" fill="#7a1f5c" font-weight="bold" textLength="222.0" lengthAdjust="spacingAndGlyphs">101.15 - 38.2% ret of 2025-2026 fall</text>
<text x="614.9" y="250.5" font-size="10.9" fill="#7a1f5c" font-weight="bold" textLength="209.4" lengthAdjust="spacingAndGlyphs">102.85 - 50% ret of 2025-2026 fall</text>
<text x="614.9" y="262.7" font-size="10.9" fill="#7a1f5c" font-weight="bold" textLength="222.0" lengthAdjust="spacingAndGlyphs">104.60 - 61.8% ret of 2025-2026 fall</text>
<path d="M817.6 138.2L831.6 124.9" stroke="#1b6a22" stroke-width="4.2" stroke-linecap="round" fill="none"/>
<path d="M818 123.4H833.1V137" stroke="#1b6a22" stroke-width="4" stroke-linecap="round" stroke-linejoin="round" fill="none"/>
<line x1="866.2" y1="114" x2="866.2" y2="625" stroke="#75777d" stroke-width="1.6"/>
<line x1="9" y1="591.3" x2="951" y2="591.3" stroke="#74767c" stroke-width="1.1"/>
<rect x="869.5" y="117.5" width="78.5" height="19.5" rx="3" fill="#ffffff" stroke="#eceef2" stroke-width="1"/>
<text x="876" y="130.7" font-size="9" fill="#2a2e39" textLength="17.4" lengthAdjust="spacingAndGlyphs">USD</text>
<text x="877.3" y="174.3" font-size="14.8" fill="#15171c"  textLength="56.7" lengthAdjust="spacingAndGlyphs">112.500</text>
<text x="877.3" y="214.9" font-size="14.8" fill="#15171c"  textLength="56.7" lengthAdjust="spacingAndGlyphs">110.000</text>
<text x="877.3" y="255.4" font-size="14.8" fill="#15171c"  textLength="56.7" lengthAdjust="spacingAndGlyphs">107.500</text>
<text x="877.3" y="296.0" font-size="14.8" fill="#15171c"  textLength="56.7" lengthAdjust="spacingAndGlyphs">105.000</text>
<text x="877.3" y="377.2" font-size="14.8" fill="#15171c"  textLength="56.7" lengthAdjust="spacingAndGlyphs">100.000</text>
<text x="877.3" y="417.7" font-size="14.8" fill="#15171c"  textLength="47.7" lengthAdjust="spacingAndGlyphs">97.500</text>
<text x="877.3" y="458.3" font-size="14.8" fill="#15171c"  textLength="47.7" lengthAdjust="spacingAndGlyphs">95.000</text>
<rect x="866.7" y="325.3" width="73.3" height="21.4" fill="#bd921d"/>
<text x="878.0" y="341.5" font-size="14.3" fill="#ffffff"  textLength="56.0" lengthAdjust="spacingAndGlyphs">102.244</text>
<rect x="866.7" y="370.3" width="64.6" height="21.5" fill="#cf0a17"/>
<text x="877.0" y="385.8" font-size="14.3" fill="#ffffff"  textLength="48.0" lengthAdjust="spacingAndGlyphs">99.490</text>
<rect x="866.7" y="391.8" width="64.6" height="21.6" fill="#3647b2"/>
<text x="877.0" y="407.7" font-size="14.3" fill="#ffffff"  textLength="48.0" lengthAdjust="spacingAndGlyphs">98.515</text>
<g clip-path="url(#cp2)">
<text x="-8.3" y="612" font-size="15.6" fill="#15171c" font-weight="bold" textLength="36.5" lengthAdjust="spacingAndGlyphs">2022</text>
</g>
<text x="92.0" y="612" font-size="15.6" fill="#15171c"  text-anchor="start" textLength="21.0" lengthAdjust="spacingAndGlyphs">Jul</text>
<text x="176.5" y="612" font-size="15.6" fill="#15171c" font-weight="bold" text-anchor="start" textLength="37.0" lengthAdjust="spacingAndGlyphs">2023</text>
<text x="277.0" y="612" font-size="15.6" fill="#15171c"  text-anchor="start" textLength="21.0" lengthAdjust="spacingAndGlyphs">Jul</text>
<text x="361.8" y="612" font-size="15.6" fill="#15171c" font-weight="bold" text-anchor="start" textLength="37.0" lengthAdjust="spacingAndGlyphs">2024</text>
<text x="463.0" y="612" font-size="15.6" fill="#15171c"  text-anchor="start" textLength="21.0" lengthAdjust="spacingAndGlyphs">Jul</text>
<text x="550.3" y="612" font-size="15.6" fill="#15171c" font-weight="bold" text-anchor="start" textLength="37.0" lengthAdjust="spacingAndGlyphs">2025</text>
<text x="651.2" y="612" font-size="15.6" fill="#15171c"  text-anchor="start" textLength="21.0" lengthAdjust="spacingAndGlyphs">Jul</text>
<text x="735.8" y="612" font-size="15.6" fill="#15171c" font-weight="bold" text-anchor="start" textLength="37.0" lengthAdjust="spacingAndGlyphs">2026</text>
<text x="836.2" y="612" font-size="15.6" fill="#15171c"  text-anchor="start" textLength="21.0" lengthAdjust="spacingAndGlyphs">Jul</text>
<defs><clipPath id="cp2"><rect x="9" y="592" width="100" height="33"/></clipPath></defs>
<g fill="#131722"><path d="M9.8 642.2H19.8V653.6H14.8V646.5H9.8Z"/><circle cx="24" cy="644.7" r="2.4"/><path d="M28.2 642.2H34L29.4 653.6H23.6Z"/></g>
<text x="40.7" y="653.6" font-size="15.4" font-weight="bold" fill="#131722" textLength="97" lengthAdjust="spacingAndGlyphs">TradingView</text>
<rect x="0" y="675" width="960" height="45" fill="#f2f2f2"/>
<rect x="0" y="674.7" width="960" height="4" fill="#bfbfbf"/>
<rect x="261" y="678" width="229" height="42" fill="#f3f3f3"/>
<rect x="48.5" y="679" width="1.5" height="41" fill="#f8f8f8"/>
<rect x="260.3" y="678" width="1.5" height="42" fill="#fafafa"/>
<rect x="489.5" y="678" width="1.5" height="42" fill="#fafafa"/>
<rect x="671.5" y="679" width="1.5" height="41" fill="#f8f8f8"/>
<text x="60.7" y="695.3" font-size="11" fill="#727272"  textLength="183.6" lengthAdjust="spacingAndGlyphs">americas@continuumeconomics.com</text>
<text x="110.7" y="711.6" font-size="11" fill="#757575" font-weight="bold" textLength="17.5" lengthAdjust="spacingAndGlyphs">Tel:</text>
<text x="131.5" y="711.6" font-size="11" fill="#727272"  textLength="62.8" lengthAdjust="spacingAndGlyphs">212 897 6777</text>
<text x="290.3" y="694.3" font-size="11" fill="#727272"  textLength="167.7" lengthAdjust="spacingAndGlyphs">emea@continuumeconomics.com</text>
<text x="314.3" y="710.8" font-size="11" fill="#757575" font-weight="bold" textLength="17.5" lengthAdjust="spacingAndGlyphs">Tel:</text>
<text x="335.0" y="710.8" font-size="11" fill="#727272"  textLength="100.5" lengthAdjust="spacingAndGlyphs">+44 (0) 207 881 8800</text>
<text x="501.0" y="695.3" font-size="11" fill="#727272"  textLength="159.0" lengthAdjust="spacingAndGlyphs">asia@continuumeconomics.com</text>
<text x="535.6" y="711.6" font-size="11" fill="#727272"  textLength="90.1" lengthAdjust="spacingAndGlyphs">Tel: +65 9798 3971</text>
</svg></body></html>
